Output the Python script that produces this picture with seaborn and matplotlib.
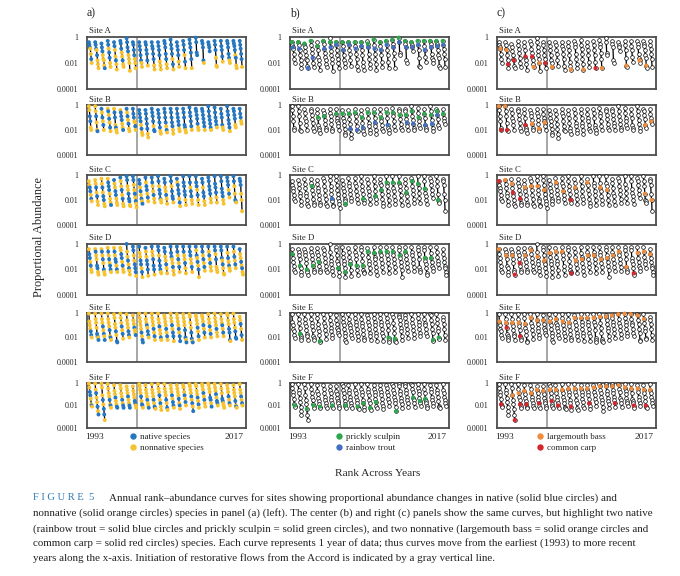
import numpy as np
import pandas as pd
import matplotlib
matplotlib.use("Agg")
import matplotlib.pyplot as plt
from matplotlib.lines import Line2D
import seaborn as sns

YEARS = list(range(1993, 2018))
SITES = ["A", "B", "C", "D", "E", "F"]
ACCORD_LINE = 2000.65
RANK_STEP = 0.075

# species in rank order per year (most abundant first)
# T rainbow trout, S prickly sculpin, n other native
# L largemouth bass, C common carp, x other nonnative
# depth = -log10(proportional abundance)
site_a_codes = ["SnTLxnx", "SnTLnxCx", "SnnxxCxT", "SnxnTxx", "nSxCnxx", "SnTxCnxL", "nSTnxxLx",
                "STnnxCx", "SnTnnxL", "STnnnx", "SnTnnxx", "STnnxxL", "nSTnnxx", "SnTnxnL",
                "SnTnxx", "STnxnC", "SnTnnL", "STnn", "SnTnx", "SnTn", "STnxLx", "SnTnx",
                "SnTnnLx", "SnTnxnLx", "STnnnx"]
site_a_depth = [[0.4, 0.6, 0.8, 0.9, 1.3, 1.7, 2.0], [0.4, 0.6, 0.9, 1.0, 1.4, 1.8, 2.1, 2.4],
                [0.5, 0.8, 1.1, 1.4, 1.7, 1.8, 2.2, 2.4], [0.3, 0.6, 0.9, 1.2, 1.6, 2.0, 2.3],
                [0.4, 0.7, 1.0, 1.5, 1.8, 2.1, 2.5], [0.3, 0.5, 0.9, 1.2, 1.5, 1.8, 2.1, 2.3],
                [0.1, 0.4, 0.8, 1.1, 1.4, 1.7, 2.0, 2.6], [0.4, 0.6, 1.0, 1.4, 1.7, 2.0, 2.4],
                [0.4, 0.7, 1.0, 1.4, 1.8, 2.0, 2.3], [0.4, 0.6, 1.0, 1.3, 1.8, 2.2],
                [0.4, 0.7, 0.9, 1.3, 1.7, 2.2, 2.5], [0.4, 0.7, 1.0, 1.4, 1.9, 2.2, 2.5],
                [0.3, 0.5, 0.8, 1.3, 1.7, 2.1, 2.4], [0.2, 0.6, 0.9, 1.3, 1.7, 2.1, 2.5],
                [0.4, 0.7, 1.0, 1.4, 1.9, 2.3], [0.3, 0.6, 1.0, 1.4, 1.9, 2.4],
                [0.2, 0.5, 0.8, 1.2, 1.7, 2.4], [0.05, 0.4, 1.2, 1.4],
                [0.3, 0.5, 0.8, 1.8, 2.0], [0.4, 0.6, 0.8, 1.1],
                [0.3, 0.6, 1.0, 1.6, 2.2, 2.3], [0.3, 0.7, 1.0, 1.5, 1.9],
                [0.3, 0.5, 0.8, 1.3, 1.6, 1.8, 2.0], [0.3, 0.5, 0.7, 1.0, 1.4, 1.6, 2.2, 2.4],
                [0.3, 0.6, 0.9, 1.3, 1.7, 2.3]]

site_b_codes = ["LxnnxC", "LxnxCn", "nxnxnx", "xnxnxnx", "xnSCnxx", "xnSnLxn", "nxnxnLx",
                "nSnxLnx", "nSnnxnxx", "nSnnTxx", "nSnnxTn", "nnSnTxx", "nSnnxnx", "nSnTnxx",
                "nnSnnxx", "nSnTnxx", "nSnnnx", "nnSnnxx", "nnSnTnx", "nSnnTnx", "nnSnnx",
                "nSnTxx", "nnSnTnx", "nSTnLx", "nSnLx"]
site_b_depth = [[0.1, 0.4, 0.9, 1.3, 1.8, 2.0], [0.1, 0.5, 0.9, 1.4, 2.0, 2.1],
                [0.3, 0.6, 1.0, 1.3, 1.6, 2.0], [0.3, 0.5, 0.8, 1.1, 1.4, 1.8, 2.1],
                [0.3, 0.6, 1.0, 1.6, 1.8, 2.0, 2.2], [0.4, 0.6, 0.9, 1.2, 1.5, 1.8, 2.0],
                [0.3, 0.6, 0.9, 1.2, 1.5, 1.9, 2.1], [0.3, 0.7, 1.0, 1.3, 1.4, 1.7, 2.0],
                [0.4, 0.7, 1.0, 1.3, 1.6, 1.9, 2.2, 2.4], [0.4, 0.7, 1.1, 1.5, 1.9, 2.3, 2.6],
                [0.3, 0.6, 0.9, 1.3, 1.7, 2.0, 2.1], [0.4, 0.7, 1.0, 1.4, 1.8, 2.1, 2.3],
                [0.3, 0.6, 1.0, 1.4, 1.7, 2.0, 2.2], [0.3, 0.6, 1.0, 1.4, 1.7, 2.0, 2.3],
                [0.3, 0.7, 1.0, 1.3, 1.6, 1.9, 2.1], [0.3, 0.6, 1.0, 1.6, 1.8, 2.0, 2.2],
                [0.2, 0.6, 0.9, 1.3, 1.7, 2.0], [0.3, 0.5, 0.8, 1.1, 1.5, 1.8, 2.0],
                [0.3, 0.5, 0.8, 1.1, 1.4, 1.7, 2.0], [0.1, 0.5, 0.9, 1.2, 1.5, 1.8, 2.0],
                [0.2, 0.6, 1.0, 1.3, 1.6, 1.8], [0.3, 0.7, 1.0, 1.6, 1.8, 2.0],
                [0.1, 0.5, 0.8, 1.2, 1.5, 1.8, 2.1], [0.3, 0.5, 0.8, 1.1, 1.6, 1.8],
                [0.3, 0.7, 1.0, 1.3, 1.5]]

site_c_codes = ["Cxnnxnx", "Lxnxnxx", "xLnCnnxx", "xnSnxCxn", "nxLnnxxx", "nxLnxnxx", "nnLxnTnxx",
                "nnxLnxnxx", "nnxnxnxS", "nLnnxnx", "nnxLnxx", "nnxnnSCx", "nnLxnxx", "nnxnSnx",
                "nLnSnxnx", "nSnnnxx", "nSLnnxx", "nSnLnxx", "nnxSnxx", "nSnnnxx", "nSnnxx",
                "nnSnnxx", "nnnxnx", "nnxLSnx", "nnnxLx"]
site_c_depth = [[0.5, 0.8, 1.0, 1.3, 1.6, 1.9, 2.1], [0.4, 0.7, 1.0, 1.4, 1.7, 2.1, 2.4],
                [0.3, 0.7, 1.0, 1.4, 1.7, 2.0, 2.3, 2.5], [0.3, 0.6, 0.9, 1.2, 1.5, 1.9, 2.2, 2.4],
                [0.4, 0.7, 1.0, 1.3, 1.6, 1.9, 2.2, 2.4], [0.2, 0.5, 0.9, 1.2, 1.6, 1.9, 2.3, 2.5],
                [0.1, 0.4, 0.9, 1.2, 1.5, 1.9, 2.1, 2.4, 2.5],
                [0.1, 0.4, 0.8, 1.2, 1.5, 1.8, 2.1, 2.3, 2.6],
                [0.4, 0.7, 1.0, 1.3, 1.6, 1.9, 2.1, 2.3], [0.2, 0.6, 0.9, 1.2, 1.5, 1.8, 2.1],
                [0.2, 0.6, 0.9, 1.3, 1.6, 1.9, 2.2], [0.1, 0.5, 0.9, 1.2, 1.5, 1.9, 2.0, 2.2],
                [0.3, 0.6, 1.0, 1.3, 1.6, 1.9, 2.3], [0.1, 0.5, 0.9, 1.3, 1.7, 1.9, 2.2],
                [0.3, 0.6, 0.8, 1.2, 1.5, 1.9, 2.2, 2.5], [0.1, 0.6, 0.9, 1.3, 1.6, 2.0, 2.4],
                [0.1, 0.6, 1.0, 1.3, 1.7, 2.0, 2.3], [0.1, 0.6, 0.9, 1.2, 1.6, 2.0, 2.4],
                [0.3, 0.6, 1.0, 1.4, 1.7, 2.1, 2.4], [0.2, 0.5, 0.9, 1.2, 1.5, 1.9, 2.2],
                [0.1, 0.7, 1.0, 1.4, 1.8, 2.2], [0.1, 0.5, 1.1, 1.4, 1.7, 2.0, 2.3],
                [0.2, 0.5, 0.8, 1.2, 1.5, 1.8], [0.1, 0.5, 0.9, 1.5, 2.0, 2.1, 2.2],
                [0.3, 0.5, 0.8, 1.5, 2.0, 2.9]]

site_d_codes = ["LSnxnxx", "xnLxSnxx", "xnLnxSxC", "xnxnCSnx", "xnLnSxnx", "xLnnxnxx", "nxLnxnxx",
                "nnxLnSnx", "nLxnnxSx", "nLxnSnx", "nLxnSnx", "nnxnSnxC", "nSxLnxx", "nSnLxnxx",
                "nSLnxnx", "nSLxnxx", "nSnLxnx", "nxSLnxnx", "nSLnxnx", "nLnxnxx", "nnxnLxx",
                "nnSxnxCx", "nLSxnxx", "nLnxnx", "nLxnxnxx"]
site_d_depth = [[0.4, 0.8, 1.1, 1.4, 1.7, 2.0, 2.2], [0.4, 0.6, 0.9, 1.2, 1.7, 1.9, 2.2, 2.4],
                [0.4, 0.6, 0.9, 1.2, 1.5, 2.0, 2.2, 2.4], [0.3, 0.6, 0.9, 1.2, 1.5, 1.7, 2.0, 2.2],
                [0.3, 0.6, 0.9, 1.2, 1.4, 1.7, 2.0, 2.2], [0.3, 0.5, 0.8, 1.1, 1.4, 1.7, 2.0, 2.2],
                [0.0, 0.6, 1.0, 1.3, 1.6, 1.9, 2.1, 2.4], [0.2, 0.5, 0.9, 1.3, 1.6, 1.9, 2.2, 2.5],
                [0.2, 0.7, 1.0, 1.3, 1.6, 1.9, 2.2, 2.6], [0.3, 0.6, 1.0, 1.3, 1.6, 2.0, 2.5],
                [0.2, 0.6, 0.9, 1.2, 1.7, 2.0, 2.4], [0.2, 0.5, 0.9, 1.3, 1.7, 2.0, 2.2, 2.3],
                [0.3, 0.6, 1.0, 1.3, 1.6, 1.9, 2.3], [0.2, 0.7, 1.0, 1.2, 1.5, 1.8, 2.1, 2.4],
                [0.2, 0.6, 0.9, 1.2, 1.5, 1.8, 2.2], [0.2, 0.6, 0.9, 1.2, 1.5, 1.9, 2.3],
                [0.2, 0.6, 0.9, 1.2, 1.5, 1.8, 2.2], [0.2, 0.5, 0.9, 1.1, 1.4, 1.7, 2.0, 2.6],
                [0.2, 0.6, 0.9, 1.2, 1.5, 1.8, 2.1], [0.2, 0.6, 0.9, 1.2, 1.5, 1.8, 2.1],
                [0.2, 0.5, 0.8, 1.2, 1.8, 2.0, 2.2], [0.2, 0.5, 1.1, 1.3, 1.6, 1.9, 2.3, 2.4],
                [0.2, 0.7, 1.1, 1.4, 1.7, 1.9, 2.1], [0.2, 0.6, 1.0, 1.3, 1.6, 1.9],
                [0.4, 0.8, 1.1, 1.4, 1.7, 1.9, 2.2, 2.4]]

site_e_codes = ["xLxxnnx", "xxLCSnxn", "xxLnxnxn", "xxLxnCnx", "xxLxnxSn", "xLxnxnx", "xLxxnnx",
                "xLxnxxn", "xxLxxnxnn", "xLxnxnnx", "xxLxnxnx", "xxLnxxnx", "xLxxnxnx", "xLxnxnnx",
                "xLxxnxnn", "xLxxnSxn", "xLxxnSxn", "xLxxnxnx", "Lxxnxnx", "Lxxnxnx", "Lxxxnxx",
                "Lxxnxnx", "xLxxnnSx", "xLxxnSn", "xxnxnx"]
site_e_depth = [[0.05, 0.7, 1.0, 1.3, 1.5, 1.8, 2.0], [0.05, 0.5, 0.8, 1.2, 1.7, 1.9, 2.0, 2.2],
                [0.05, 0.5, 0.8, 1.1, 1.4, 1.7, 1.9, 2.2], [0.05, 0.5, 0.8, 1.1, 1.4, 1.9, 2.0, 2.2],
                [0.1, 0.4, 0.9, 1.2, 1.5, 1.8, 2.3, 2.4], [0.05, 0.4, 0.8, 1.1, 1.4, 1.7, 2.1],
                [0.1, 0.6, 0.9, 1.2, 1.5, 1.8, 2.0], [0.2, 0.6, 0.9, 1.2, 1.4, 1.6, 1.8],
                [0.05, 0.4, 0.7, 1.0, 1.3, 1.6, 1.9, 2.2, 2.4],
                [0.05, 0.5, 0.8, 1.0, 1.2, 1.5, 1.8, 2.0], [0.05, 0.4, 0.7, 1.0, 1.3, 1.6, 1.9, 2.2],
                [0.05, 0.5, 0.8, 1.1, 1.4, 1.7, 2.0, 2.2], [0.2, 0.4, 0.7, 1.0, 1.3, 1.6, 1.9, 2.2],
                [0.05, 0.4, 0.7, 1.0, 1.3, 1.6, 1.9, 2.3], [0.1, 0.4, 0.7, 1.0, 1.3, 1.6, 1.9, 2.3],
                [0.1, 0.4, 0.7, 1.0, 1.4, 2.0, 2.2, 2.4], [0.1, 0.3, 0.8, 1.2, 1.6, 2.1, 2.3, 2.4],
                [0.2, 0.3, 0.6, 0.9, 1.2, 1.5, 1.9, 2.2], [0.2, 0.4, 0.7, 1.0, 1.3, 1.6, 2.0],
                [0.1, 0.5, 0.8, 1.1, 1.4, 1.7, 2.0], [0.05, 0.4, 0.7, 1.0, 1.3, 1.6, 1.9],
                [0.1, 0.5, 0.8, 1.0, 1.3, 1.6, 1.9], [0.05, 0.2, 0.6, 0.9, 1.3, 1.6, 2.2, 2.3],
                [0.05, 0.5, 0.8, 1.2, 1.5, 2.0, 2.1], [0.3, 0.6, 0.9, 1.3, 1.8, 2.2]]

site_f_codes = ["xxnnxCSx", "xxnxxnxn", "xxLnxSnC", "xxLxnCSx", "xLxnxCSn", "xxLxnxnn", "xLxnxCSn",
                "xLxxnnxx", "xxLxnCnSx", "xLxxnxCn", "xLxxnxSnx", "xLxnxSCx", "xLxxnxSx", "xLxnxSnx",
                "xLxxnCnx", "xLxnxnx", "xLxxnxnxS", "xLxxnxnx", "xLxnxnCx", "xLxxSnxn", "xLxnxSnx",
                "xLxSnxCx", "xLxnxnx", "xLxxnCnx", "xLxnxnx"]
site_f_depth = [[0.05, 0.4, 0.8, 1.1, 1.4, 1.9, 2.0, 2.1], [0.05, 0.6, 0.9, 1.3, 1.7, 2.1, 2.5, 2.8],
                [0.05, 0.4, 1.1, 1.5, 1.9, 2.3, 2.8, 3.3], [0.1, 0.5, 0.9, 1.2, 1.5, 1.9, 2.0, 2.2],
                [0.2, 0.7, 1.0, 1.3, 1.6, 1.9, 2.1, 2.2], [0.2, 0.5, 0.9, 1.2, 1.5, 1.8, 2.0, 2.2],
                [0.3, 0.6, 0.9, 1.2, 1.5, 1.8, 2.0, 2.2], [0.3, 0.7, 1.0, 1.3, 1.6, 1.8, 2.0, 2.2],
                [0.1, 0.3, 0.6, 0.9, 1.2, 1.6, 1.9, 2.0, 2.2],
                [0.2, 0.6, 0.9, 1.2, 1.5, 1.8, 2.0, 2.2],
                [0.1, 0.6, 0.9, 1.2, 1.5, 1.8, 2.1, 2.2, 2.3],
                [0.1, 0.5, 0.8, 1.1, 1.5, 1.8, 2.1, 2.4], [0.1, 0.5, 0.8, 1.1, 1.5, 1.8, 2.2, 2.4],
                [0.2, 0.5, 0.8, 1.1, 1.4, 1.7, 2.0, 2.2], [0.2, 0.5, 0.8, 1.1, 1.4, 1.8, 2.0, 2.3],
                [0.2, 0.4, 0.8, 1.1, 1.4, 1.7, 2.0],
                [0.1, 0.3, 0.6, 0.9, 1.2, 1.5, 1.8, 2.1, 2.5],
                [0.1, 0.3, 0.7, 1.0, 1.3, 1.6, 1.9, 2.2], [0.1, 0.3, 0.6, 0.9, 1.2, 1.5, 1.8, 2.1],
                [0.05, 0.2, 0.5, 0.8, 1.3, 1.5, 1.8, 2.1], [0.1, 0.4, 0.7, 1.0, 1.3, 1.6, 1.8, 2.0],
                [0.1, 0.5, 0.9, 1.4, 1.6, 1.8, 2.0, 2.2], [0.2, 0.5, 0.8, 1.2, 1.5, 1.8, 2.0],
                [0.2, 0.6, 0.9, 1.2, 1.6, 2.0, 2.1, 2.2], [0.1, 0.6, 0.9, 1.2, 1.5, 1.8, 2.0]]

all_codes = [site_a_codes, site_b_codes, site_c_codes, site_d_codes, site_e_codes, site_f_codes]
all_depth = [site_a_depth, site_b_depth, site_c_depth, site_d_depth, site_e_depth, site_f_depth]

NATIVE = set("TSn")
BLUE_A = "#2577c2"
YELLOW = "#f7c22f"
GREEN = "#2ea84e"
BLUE_B = "#4470c4"
ORANGE = "#f08c3c"
RED = "#d8262d"
ORIGIN_COLORS = {"native": BLUE_A, "nonnative": YELLOW}
FOCUS = {"b": {"S": GREEN, "T": BLUE_B}, "c": {"L": ORANGE, "C": RED}}
LEGENDS = {"a": [("native species", BLUE_A), ("nonnative species", YELLOW)],
           "b": [("prickly sculpin", GREEN), ("rainbow trout", BLUE_B)],
           "c": [("largemouth bass", ORANGE), ("common carp", RED)]}

rows = []
for site, codes, depths in zip(SITES, all_codes, all_depth):
    for year, cs, ds in zip(YEARS, codes, depths):
        assert len(cs) == len(ds), (site, year)
        for rank, (c, d) in enumerate(zip(cs, ds)):
            rows.append({"site": site, "year": year, "rank": rank, "code": c,
                         "abund": 10 ** (-d)})
df = pd.DataFrame(rows)
df["x"] = df["year"] + df["rank"] * RANK_STEP
df["origin"] = np.where(df["code"].isin(NATIVE), "native", "nonnative")

sns.set_style("white")
plt.rcParams["font.family"] = ["Liberation Serif", "DejaVu Serif"]

W, H = 680, 576
fig = plt.figure(figsize=(W / 100, H / 100), dpi=100)

def px_rect(left, top, w, h):
    return [left / W, 1 - (top + h) / H, w / W, h / H]

panel_left = {"a": 87, "b": 290, "c": 497}
panel_w = 159
row_top = [37, 105, 175, 244, 313, 383]
row_h = [52, 50, 50, 51, 49, 45]
legend_dot = {"a": 46, "b": 49, "c": 43}

for panel in ["a", "b", "c"]:
    fig.text(panel_left[panel] / W, 1 - 13 / H, panel + ")", fontsize=8.5, va="center")
    for i, site in enumerate(SITES):
        ax = fig.add_axes(px_rect(panel_left[panel], row_top[i], panel_w, row_h[i]))
        d = df[df["site"] == site]
        ax.set_yscale("log")
        ax.axvline(ACCORD_LINE, color="#a6a6a6", lw=1.4, zorder=1)
        sns.lineplot(data=d, x="x", y="abund", units="year", estimator=None, sort=False,
                     color="black", linewidth=0.9, ax=ax, legend=False, zorder=2)
        if panel == "a":
            sns.scatterplot(data=d, x="x", y="abund", hue="origin", palette=ORIGIN_COLORS,
                            s=8, linewidth=0, legend=False, ax=ax, zorder=3)
        else:
            sns.scatterplot(data=d, x="x", y="abund", color="white", edgecolor="black",
                            s=7, linewidth=0.5, legend=False, ax=ax, zorder=3)
            hl = d[d["code"].isin(list(FOCUS[panel]))]
            if len(hl):
                sns.scatterplot(data=hl, x="x", y="abund", hue="code", palette=FOCUS[panel],
                                s=9, linewidth=0, legend=False, ax=ax, zorder=4)
        for art in ax.collections + ax.lines[1:]:
            art.set_clip_on(False)
        ax.set_xlim(1992.7, 2018.0)
        ax.set_ylim(1e-4, 1)
        ax.set_yticks([1, 1e-2, 1e-4])
        ax.set_yticklabels(["1", "0.01", "0.0001"])
        ax.minorticks_off()
        ax.set_xticks([])
        ax.tick_params(axis="y", length=0, pad=6, labelsize=5.8)
        ax.set(xlabel="", ylabel="")
        for s in ax.spines.values():
            s.set_color("#4d4d4d")
            s.set_linewidth(1.3)
        ax.text(0.01, 1.03, "Site " + site, transform=ax.transAxes, fontsize=6.3, va="bottom")

        if site == "F":
            h = row_h[i]
            ax.text(-0.013, -9 / h, "1993", transform=ax.transAxes, fontsize=6.8,
                    ha="left", va="center")
            ax.text(0.985, -9 / h, "2017", transform=ax.transAxes, fontsize=6.8,
                    ha="right", va="center")
            handles = [Line2D([], [], marker="o", ls="", markersize=4.6, markerfacecolor=c,
                              markeredgewidth=0, label=lab) for lab, c in LEGENDS[panel]]
            ax.legend(handles=handles, loc="upper left",
                      bbox_to_anchor=((legend_dot[panel] - 2.7) / panel_w, -4.5 / h),
                      frameon=False, fontsize=6.5, handlelength=0.6, handletextpad=0.5,
                      labelspacing=0.3, borderpad=0, borderaxespad=0)

fig.text(39 / W, 1 - 237 / H, "Proportional Abundance", rotation=90, fontsize=8.8,
         ha="center", va="center")
fig.text(378 / W, 1 - 473 / H, "Rank Across Years", fontsize=8.2, ha="center", va="center")

caption = [
    "Annual rank\u2013abundance curves for sites showing proportional abundance changes in native (solid blue circles) and",
    "nonnative (solid orange circles) species in panel (a) (left). The center (b) and right (c) panels show the same curves, but highlight two native",
    "(rainbow trout = solid blue circles and prickly sculpin = solid green circles), and two nonnative (largemouth bass = solid orange circles and",
    "common carp = solid red circles) species. Each curve represents 1 year of data; thus curves move from the earliest (1993) to more recent",
    "years along the x-axis. Initiation of restorative flows from the Accord is indicated by a gray vertical line.",
]
cap_y = [498, 513, 529, 543, 558]
fig.text(33 / W, 1 - cap_y[0] / H, "F I G U R E  5", fontsize=7.6, color="#2f7ab5",
         va="center")
for k, (line, y) in enumerate(zip(caption, cap_y)):
    x0 = 109 if k == 0 else 33
    fig.text(x0 / W, 1 - y / H, line, fontsize=7.9, color="#222222", va="center")

fig.savefig("out.png", dpi=100)
